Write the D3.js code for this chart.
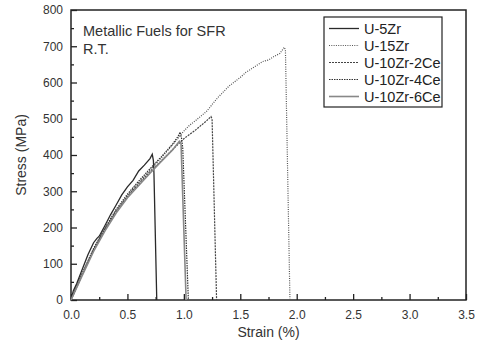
<!DOCTYPE html>
<html><head><meta charset="utf-8">
<script src="https://cdn.jsdelivr.net/npm/d3@7"></script>
<style>body{margin:0;background:#fff}svg{display:block}text{font-family:"Liberation Sans",Arial,sans-serif}</style>
</head><body><svg id="c" width="478" height="343"></svg>
<script>
const seriesNames = ["U-5Zr","U-15Zr","U-10Zr-2Ce","U-10Zr-4Ce","U-10Zr-6Ce"];
const strain5Zr = [0,0.02,0.05,0.1,0.15,0.2,0.23,0.25,0.3,0.35,0.4,0.45,0.5,0.55,0.6,0.65,0.7,0.72,0.73,0.735,0.76];
const stress5Zr = [0,25,45,85,125,158,170,176,205,235,262,290,312,330,356,372,390,402,385,350,0];
const strain15Zr = [0,0.03,0.1,0.2,0.3,0.4,0.5,0.6,0.7,0.8,0.9,1.0,1.05,1.1,1.2,1.3,1.4,1.5,1.55,1.6,1.7,1.75,1.8,1.85,1.89,1.9,1.94];
const stress15Zr = [0,22,72,140,196,246,288,324,358,392,428,466,482,494,520,558,590,614,628,638,658,662,672,680,697,690,0];
const strain2Ce = [0,0.03,0.1,0.2,0.3,0.4,0.5,0.6,0.7,0.8,0.9,1.0,1.1,1.2,1.24,1.25,1.29];
const stress2Ce = [0,20,70,138,194,244,286,320,354,384,415,445,468,494,506,500,0];
const strain4Ce = [0,0.03,0.1,0.2,0.3,0.4,0.5,0.6,0.7,0.8,0.9,0.95,0.967,0.98,0.99,1.04];
const stress4Ce = [0,24,74,142,198,250,292,328,362,395,430,452,463,445,420,0];
const strain6Ce = [0,0.03,0.1,0.2,0.3,0.4,0.5,0.6,0.7,0.8,0.9,0.96,0.975,1.02];
const stress6Ce = [0,20,68,134,190,240,282,316,350,382,414,438,432,0];
const xTicks = [0,0.5,1.0,1.5,2.0,2.5,3.0,3.5];
const yTicks = [0,100,200,300,400,500,600,700,800];

const svg = d3.select("#c");
const L=71,R=466,T=10,B=300;
const x = d3.scaleLinear().domain([0,3.5]).range([L,R]);
const y = d3.scaleLinear().domain([0,800]).range([B,T]);

// axes with inward ticks
const xAx = svg.append("g").attr("transform",`translate(0,${B})`)
  .call(d3.axisBottom(x).tickValues(xTicks).tickFormat(d3.format(".1f")).tickSizeInner(-6).tickSizeOuter(0).tickPadding(8));
svg.append("g").attr("transform",`translate(0,${B})`)
  .call(d3.axisBottom(x).tickValues([0.25,0.75,1.25,1.75,2.25,2.75,3.25]).tickFormat("").tickSizeInner(-3).tickSizeOuter(0))
  .select(".domain").remove();
const yAx = svg.append("g").attr("transform",`translate(${L},0)`)
  .call(d3.axisLeft(y).tickValues(yTicks).tickFormat(d3.format("d")).tickSizeInner(-6).tickSizeOuter(0).tickPadding(8));
svg.append("g").attr("transform",`translate(${L},0)`)
  .call(d3.axisLeft(y).tickValues([50,150,250,350,450,550,650,750]).tickFormat("").tickSizeInner(-3).tickSizeOuter(0))
  .select(".domain").remove();
svg.selectAll(".tick line").attr("stroke","#222").attr("stroke-width",1.3);
svg.selectAll(".domain").attr("stroke","none");
svg.selectAll(".tick text").attr("fill","#333").style("font-size","12px");
xAx.selectAll(".tick text").attr("dy","0.9em");

svg.append("rect").attr("x",L).attr("y",T).attr("width",R-L).attr("height",B-T)
  .attr("fill","none").attr("stroke","#222").attr("stroke-width",1.5);

const data = [
  {name:seriesNames[0], xs:strain5Zr, ys:stress5Zr, color:"#2a2a2a", dash:null, w:1.3},
  {name:seriesNames[1], xs:strain15Zr, ys:stress15Zr, color:"#555", dash:"1,1.3", w:1.2},
  {name:seriesNames[2], xs:strain2Ce, ys:stress2Ce, color:"#444", dash:"2,1", w:1.2},
  {name:seriesNames[3], xs:strain4Ce, ys:stress4Ce, color:"#333", dash:"1.5,1", w:1.2},
  {name:seriesNames[4], xs:strain6Ce, ys:stress6Ce, color:"#888", dash:null, w:1.6}
];
const line = d3.line().x(d=>x(d[0])).y(d=>y(d[1]));
data.forEach(s=>{
  const pts = s.xs.map((v,i)=>[v,s.ys[i]]);
  svg.append("path").attr("d",line(pts)).attr("fill","none").attr("stroke",s.color)
    .attr("stroke-width",s.w).attr("stroke-dasharray",s.dash);
});

// legend
const lg = svg.append("g");
lg.append("rect").attr("x",324).attr("y",17).attr("width",118).attr("height",90)
  .attr("fill","#fff").attr("stroke","#222").attr("stroke-width",1.2);
data.forEach((s,i)=>{
  const yy = 28.5 + i*17;
  lg.append("line").attr("x1",329).attr("x2",359).attr("y1",yy).attr("y2",yy)
    .attr("stroke",s.color).attr("stroke-width",s.w).attr("stroke-dasharray",s.dash);
  lg.append("text").attr("x",364).attr("y",yy+5).text(s.name).attr("fill","#222").style("font-size","14.5px");
});

svg.append("text").attr("x",83).attr("y",36).text("Metallic Fuels for SFR").attr("fill","#333").style("font-size","14.5px");
svg.append("text").attr("x",83).attr("y",54).text("R.T.").attr("fill","#333").style("font-size","14.5px");

svg.append("text").attr("x",(L+R)/2).attr("y",337).attr("text-anchor","middle").text("Strain (%)").attr("fill","#333").style("font-size","14px");
svg.append("text").attr("transform","translate(26,155) rotate(-90)").attr("text-anchor","middle").text("Stress (MPa)").attr("fill","#333").style("font-size","14px");
</script></body></html>
